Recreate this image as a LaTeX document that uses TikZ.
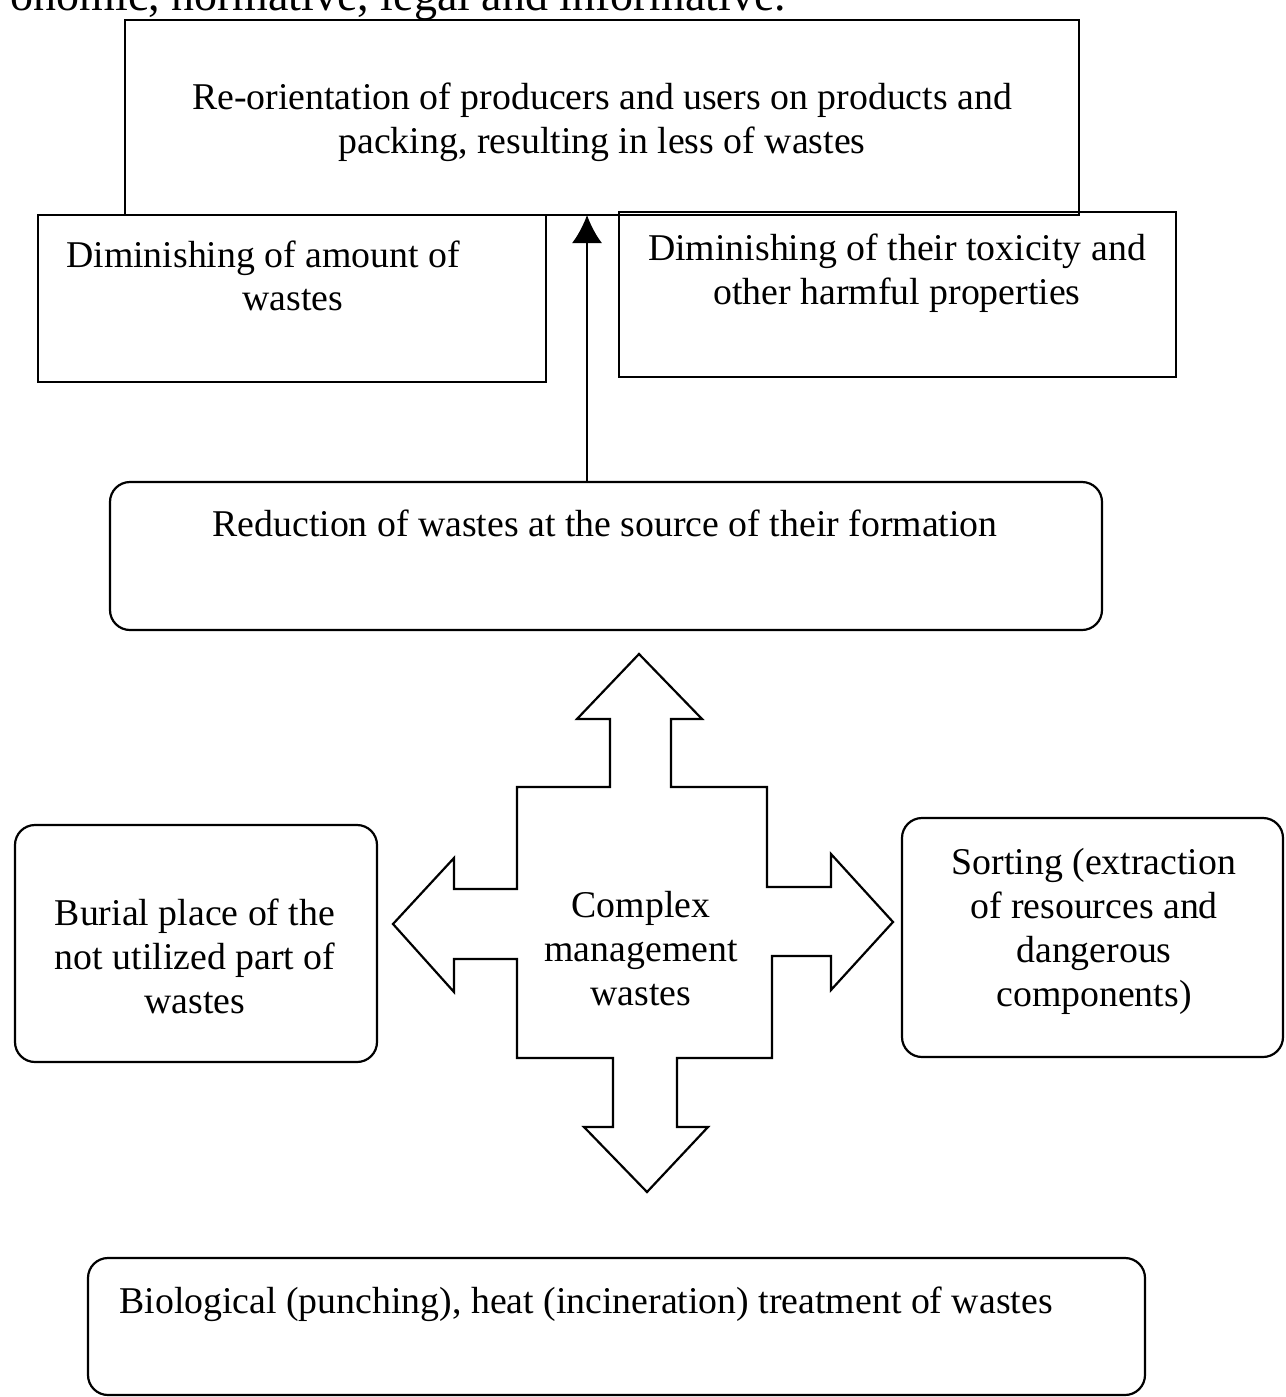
\documentclass[tikz,border=0pt]{standalone}
\usepackage{fontspec}
\setmainfont{Liberation Serif}
\usetikzlibrary{arrows.meta}
\begin{document}
\begin{tikzpicture}[x=1pt,y=-1pt,
  txt/.style={font=\fontsize{37.8}{44}\selectfont, inner sep=0pt, align=center},
  box/.style={draw, line width=2.2pt, inner sep=0pt, outer sep=0pt},
  rbox/.style={box, rounded corners=20pt},
  cross/.style={draw, line width=2.2pt, line join=miter}]
\useasboundingbox (0,0) rectangle (1285,1397);

% partial line of text at top (cut by the page edge)
\node[txt, font=\fontsize{46}{50}\selectfont, anchor=base east] (partial) at (786,11) {onomic, normative, legal and informative.};

% boxes
\node[box, minimum width=954pt, minimum height=195pt] (top) at (602,117.5) {};
\node[box, minimum width=508pt, minimum height=167pt] (lbox) at (292,298.5) {};
\node[box, minimum width=557pt, minimum height=165pt] (rbx) at (897.5,294.5) {};
\node[rbox, minimum width=992pt, minimum height=148pt] (red) at (606,556) {};
\node[rbox, minimum width=362pt, minimum height=237pt] (burial) at (196,943.5) {};
\node[rbox, minimum width=381pt, minimum height=239pt] (sort) at (1092.5,937.5) {};
\node[rbox, minimum width=1057pt, minimum height=137pt] (bio) at (616.5,1326.5) {};

% texts
\node[txt] (toptxt) at (602,122) {Re-orientation of producers and users on products and\\packing, resulting in less of wastes};
\node[txt, anchor=base west] (ltxt1) at (66,267) {Diminishing of amount of};
\node[txt, anchor=base] (ltxt2) at (293,310) {wastes};
\node[txt] (rtxt) at (897,273) {Diminishing of their toxicity and\\other harmful properties};
\node[txt, anchor=base] (redtxt) at (605,536) {Reduction of wastes at the source of their formation};
\node[txt] (burtxt) at (195,956) {Burial place of the\\not utilized part of\\wastes};
\node[txt] (sorttxt) at (1094,931) {Sorting (extraction\\of resources and\\dangerous\\components)};
\node[txt, anchor=base] (biotxt) at (586,1313) {Biological (punching), heat (incineration) treatment of wastes};

% cross-shaped four-way arrow
\draw[cross] (639,654) -- (702,719) -- (671,719) -- (671,787) -- (767,787)
  -- (767,887) -- (831,887) -- (831,854) -- (893,922) -- (831,990) -- (831,956)
  -- (772,956) -- (772,1058) -- (677,1058) -- (677,1127) -- (708,1127)
  -- (647,1192) -- (584,1127) -- (613,1127) -- (613,1058) -- (517,1058)
  -- (517,959) -- (454,959) -- (454,992) -- (393,924) -- (454,858) -- (454,889)
  -- (517,889) -- (517,787) -- (610,787) -- (610,719) -- (577,719) -- cycle;
\node[txt] (cmw) at (641,949) {Complex\\management\\wastes};

% arrow up
\coordinate (ax) at (587,0);
\draw[line width=2.2pt, -{Latex[length=28pt,width=30pt]}] (ax |- red.north) -- (ax |- top.south);
\end{tikzpicture}
\end{document}
